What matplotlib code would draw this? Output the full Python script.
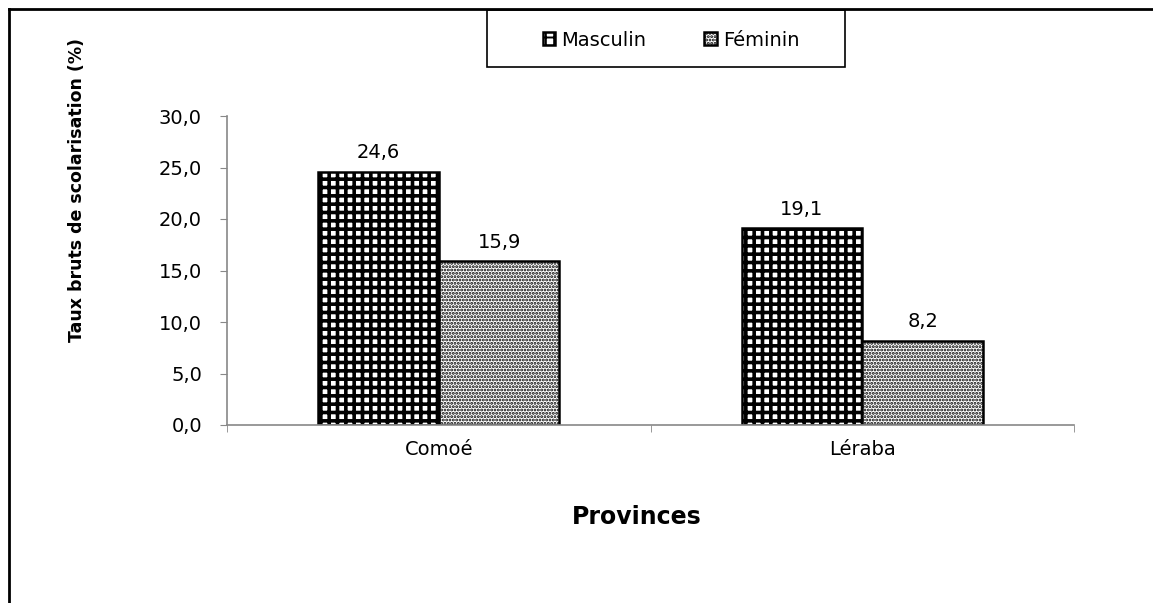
import numpy as np
import matplotlib.pyplot as plt
import matplotlib as mpl
from matplotlib.lines import Line2D
from matplotlib.patches import Rectangle

mpl.rcParams['font.family'] = ['DejaVu Sans']

provinces = ['Comoé', 'Léraba']
masculin = [24.6, 19.1]
feminin = [15.9, 8.2]
yticks = [0, 5, 10, 15, 20, 25, 30]


def fr(v):
    return f'{v:.1f}'.replace('.', ',')


W, H = 1153, 603
fig = plt.figure(figsize=(W / 100, H / 100), dpi=100)
ax = fig.add_axes([227 / W, 1 - 425 / H, (1074 - 227) / W, (425 - 116) / H])

x = np.arange(len(provinces))
w = 0.285

# Masculin: black grid with white holes
mpl.rcParams['hatch.linewidth'] = 2.6
bm = ax.bar(x - w / 2, masculin, w, facecolor='white', edgecolor='black', hatch='++',
            linewidth=1.8, zorder=2, label='Masculin')

# Feminin: fine dots
mpl.rcParams['hatch.linewidth'] = 1.4
bf = ax.bar(x + w / 2, feminin, w, facecolor='white', edgecolor='black', hatch='.....',
            linewidth=1.8, zorder=2, label='Féminin')

for i in range(len(provinces)):
    ax.text(x[i] - w / 2, masculin[i] + 0.9, fr(masculin[i]), ha='center', va='bottom', fontsize=14)
    ax.text(x[i] + w / 2, feminin[i] + 0.9, fr(feminin[i]), ha='center', va='bottom', fontsize=14)

ax.set_xlim(-0.5, 1.5)
ax.set_ylim(0, 30)
ax.set_yticks(yticks)
ax.set_yticklabels([fr(v) for v in yticks], fontsize=14)
ax.set_xticks(x)
ax.set_xticklabels(provinces, fontsize=14)
ax.tick_params(axis='x', which='major', length=0, pad=11)
ax.set_xticks([-0.5, 0.5, 1.5], minor=True)
ax.tick_params(axis='x', which='minor', length=5, color='#888888')
ax.tick_params(axis='y', length=5, color='#888888', pad=13)

for s in ['top', 'right']:
    ax.spines[s].set_visible(False)
for s in ['left', 'bottom']:
    ax.spines[s].set_color('#888888')
    ax.spines[s].set_linewidth(1.2)

fig.text(77 / W, 1 - 190 / H, 'Taux bruts de scolarisation (%)', rotation=90,
         ha='center', va='center', fontsize=12.5, fontweight='bold')
fig.text(637 / W, 1 - 517 / H, 'Provinces', ha='center', va='center',
         fontsize=17, fontweight='bold')

# legend box
fig.add_artist(Rectangle((487 / W, 1 - 67 / H), (845 - 487) / W, (67 - 10) / H,
                         transform=fig.transFigure, fill=False, edgecolor='black', lw=1.2))
leg = fig.legend(handles=[bm, bf], loc='center', bbox_to_anchor=(671 / W, 1 - 40 / H),
                 ncol=2, frameon=False, fontsize=14,
                 handlelength=0.65, handleheight=0.65, handletextpad=0.3, columnspacing=3.0,
                 borderpad=0, borderaxespad=0)

# outer frame (top and left)
fig.add_artist(Line2D([9 / W, 9 / W], [0, 1 - 9 / H], color='black', lw=2))
fig.add_artist(Line2D([9 / W, 1], [1 - 9 / H, 1 - 9 / H], color='black', lw=2))

fig.savefig('out.png', dpi=100)
